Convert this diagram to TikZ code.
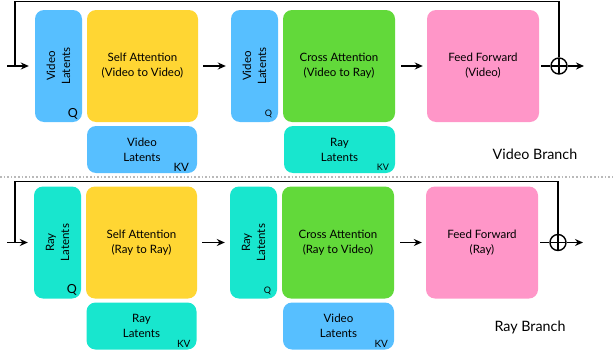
\documentclass[tikz,border=0pt]{standalone}
\usepackage{fontspec}
\setmainfont{Lato}
\usetikzlibrary{arrows.meta,calc}
\definecolor{cBlue}{RGB}{87,191,255}
\definecolor{cYellow}{RGB}{255,214,51}
\definecolor{cGreen}{RGB}{98,217,58}
\definecolor{cTeal}{RGB}{24,230,206}
\definecolor{cPink}{RGB}{255,150,200}
\tikzset{
  blk/.style={rounded corners=9pt, inner sep=0pt, align=center, font=\fontsize{11.5}{15}\selectfont},
  mainbox/.style={blk, minimum width=112pt, minimum height=112pt},
  qbox/.style={blk, minimum width=47pt, minimum height=112pt},
  kvbox/.style={blk, minimum width=111pt, minimum height=47pt},
  vtxt/.style={rotate=90, align=center, inner sep=0pt, font=\fontsize{11.5}{15}\selectfont},
  biglab/.style={inner sep=0pt, anchor=south east, font=\fontsize{12.5}{12}\selectfont},
  smalllab/.style={inner sep=0pt, anchor=south east, font=\fontsize{9}{9}\selectfont},
  conn/.style={line width=1.6pt, -{Stealth[length=8pt,width=7pt]}},
  wire/.style={line width=1.6pt},
  osum/.style={circle, draw, line width=1.4pt, minimum size=16pt, inner sep=0pt,
    path picture={\draw[line width=1.4pt] (path picture bounding box.north) -- (path picture bounding box.south)
      (path picture bounding box.west) -- (path picture bounding box.east);}},
  branchlab/.style={font=\fontsize{14.3}{14}\selectfont, inner sep=0pt},
}
\begin{document}
\begin{tikzpicture}[x=1pt,y=-1pt]
\useasboundingbox (0,0) rectangle (613,356);
% separator
\draw[gray!55, line width=1.6pt, dotted] (0,177) -- (613,177);

% ---------------- Video branch ----------------
\node[qbox, fill=cBlue] (vq1) at (58.5,66) {};
\node[vtxt] at (vq1.center) {Video\\Latents};
\node[biglab] at ($(vq1.south east)+(-4,-3)$) {Q};
\node[mainbox, fill=cYellow, minimum width=111pt] (vsa) at (142.5,66) {Self Attention\\(Video to Video)};
\node[qbox, fill=cBlue] (vq2) at (254.5,66) {};
\node[vtxt] at (vq2.center) {Video\\Latents};
\node[smalllab] at ($(vq2.south east)+(-6,-4)$) {Q};
\node[mainbox, fill=cGreen] (vca) at (339,66) {Cross Attention\\(Video to Ray)};
\node[mainbox, fill=cPink] (vff) at (483,66) {Feed Forward\\(Video)};
\node[kvbox, fill=cBlue, minimum width=110pt] (vkv1) at (142,149.5) {Video\\Latents};
\node[biglab, font=\fontsize{11.5}{11}\selectfont] at ($(vkv1.south east)+(-8,-2)$) {KV};
\node[kvbox, fill=cTeal] (vkv2) at (339.5,149.5) {Ray\\Latents};
\node[smalllab] at ($(vkv2.south east)+(-6,-3)$) {KV};
\node[osum] (vsum) at (559,66) {};
\coordinate (vin) at (7,66);
\coordinate (vout) at (584,66);
\coordinate (vtopR) at (559,1.5);
\coordinate (vtopL) at (15,1.5);
\coordinate (vjoin) at (15,66);
\draw[conn, shorten >=6pt] (vin) -- (vq1.west);
\draw[wire] (vsum.north) -- (vtopR) -- (vtopL) -- (vjoin);
\draw[conn, shorten <=5pt, shorten >=5pt] (vsa.east) -- (vq2.west);
\draw[conn, shorten <=6pt, shorten >=4pt] (vca.east) -- (vff.west);
\draw[wire, shorten <=2pt] (vff.east) -- (vsum.west);
\draw[conn] (vsum.east) -- (vout);
\node[branchlab] (vlab) at (535,154) {Video Branch};

% ---------------- Ray branch ----------------
\node[qbox, fill=cTeal] (rq1) at (57.5,242.5) {};
\node[vtxt] at (rq1.center) {Ray\\Latents};
\node[biglab] at ($(rq1.south east)+(-4,-3)$) {Q};
\node[mainbox, fill=cYellow, minimum width=111pt] (rsa) at (141.5,242.5) {Self Attention\\(Ray to Ray)};
\node[qbox, fill=cTeal] (rq2) at (253.5,242.5) {};
\node[vtxt] at (rq2.center) {Ray\\Latents};
\node[smalllab] at ($(rq2.south east)+(-6,-4)$) {Q};
\node[mainbox, fill=cGreen] (rca) at (338,242.5) {Cross Attention\\(Ray to Video)};
\node[mainbox, fill=cPink] (rff) at (482,242.5) {Feed Forward\\(Ray)};
\node[kvbox, fill=cTeal, minimum width=110pt] (rkv1) at (141.5,326) {Ray\\Latents};
\node[smalllab, font=\fontsize{10}{10}\selectfont] at ($(rkv1.south east)+(-6,-2)$) {KV};
\node[kvbox, fill=cBlue] (rkv2) at (338.5,326) {Video\\Latents};
\node[smalllab, font=\fontsize{10}{10}\selectfont] at ($(rkv2.south east)+(-6,-2)$) {KV};
\node[osum] (rsum) at (558,242.5) {};
\coordinate (rin) at (7,242.5);
\coordinate (rout) at (583,242.5);
\coordinate (rtopR) at (558,181.5);
\coordinate (rtopL) at (15,181.5);
\coordinate (rjoin) at (15,242.5);
\draw[conn, shorten >=6pt] (rin) -- (rq1.west);
\draw[wire] (rsum.north) -- (rtopR) -- (rtopL) -- (rjoin);
\draw[conn, shorten <=5pt, shorten >=5pt] (rsa.east) -- (rq2.west);
\draw[conn, shorten <=6pt, shorten >=4pt] (rca.east) -- (rff.west);
\draw[wire, shorten <=2pt] (rff.east) -- (rsum.west);
\draw[conn] (rsum.east) -- (rout);
\node[branchlab] (rlab) at (530,327) {Ray Branch};
\end{tikzpicture}
\end{document}
